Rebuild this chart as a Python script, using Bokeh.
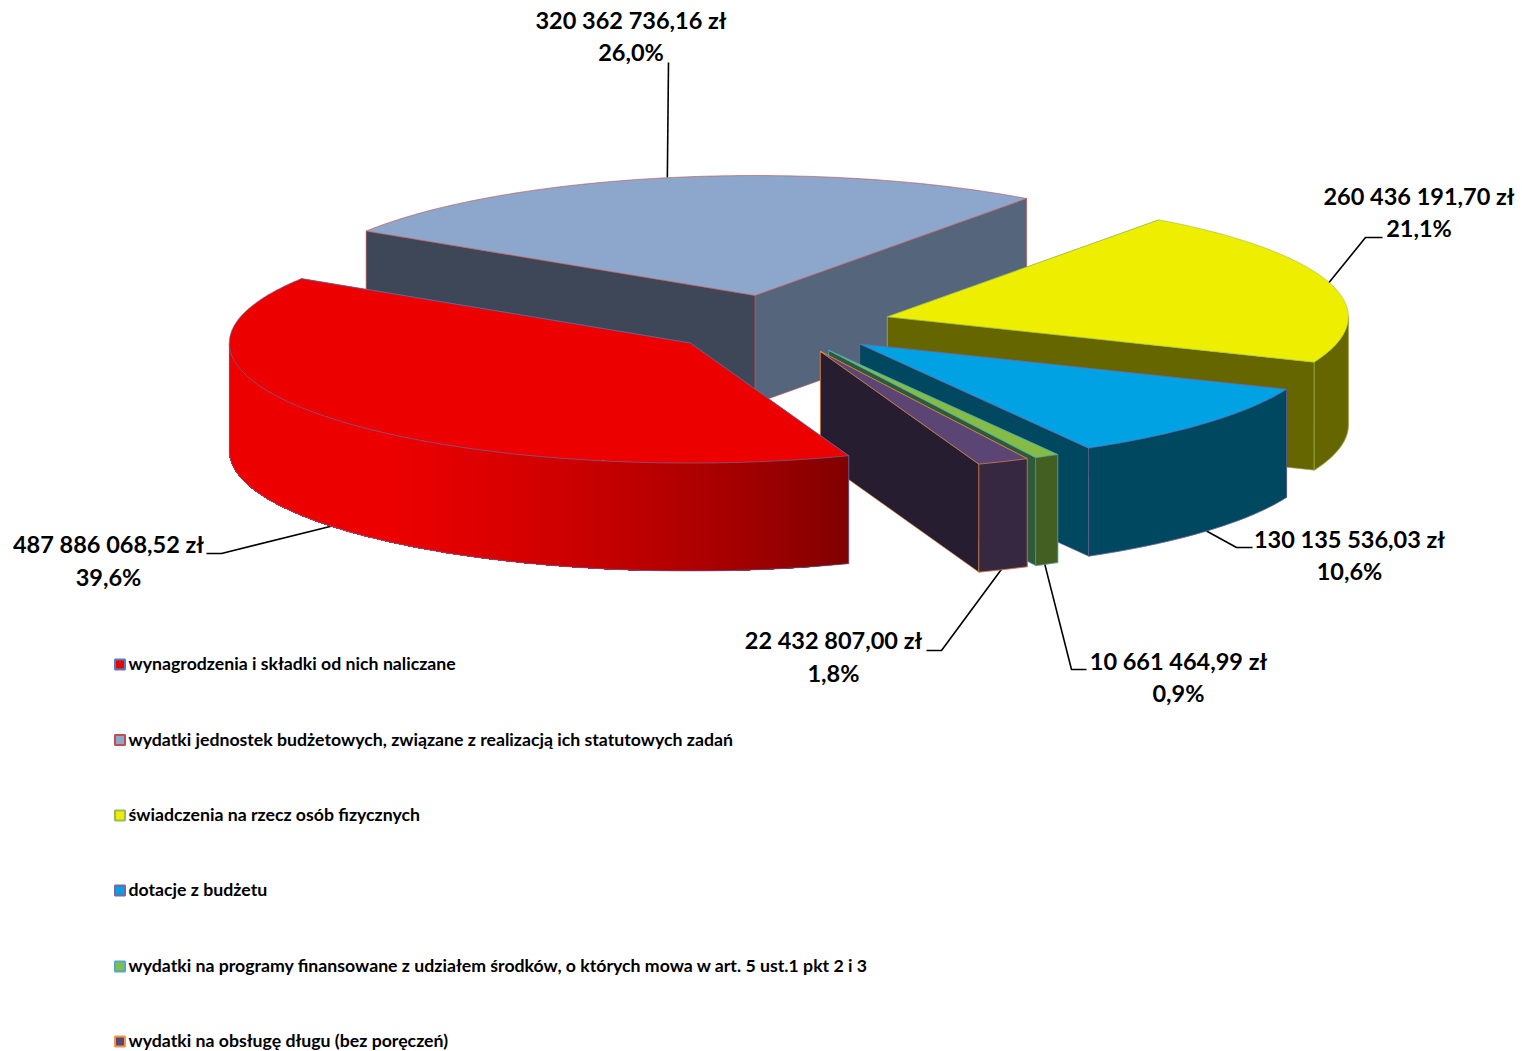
import math
import numpy as np
from bokeh.plotting import figure
from bokeh.embed import file_html
from bokeh.resources import INLINE
from bokeh.core.properties import value

# ---------- data ----------
categories = [
    "wynagrodzenia i składki od nich naliczane",
    "wydatki jednostek budżetowych, związane z realizacją ich statutowych zadań",
    "świadczenia na rzecz osób fizycznych",
    "dotacje z budżetu",
    "wydatki na programy finansowane z udziałem środków, o których mowa w art. 5 ust.1 pkt 2 i 3",
    "wydatki na obsługę długu (bez poręczeń)",
]
amounts = [487886068.52, 320362736.16, 260436191.70, 130135536.03, 10661464.99, 22432807.00]

# ---------- styles ----------
top_colors = ["#ED0000", "#8CA7CB", "#EEEE00", "#00A2E3", "#84BC45", "#5B4574"]
start_side = ["#8F0000", "#3D4757", "#666600", "#004760", "#2F5A3A", "#352840"]
end_side = ["#8F0000", "#55667C", "#666600", "#004760", "#2F5A3A", "#261D30"]
rim_colors = [None, "#55667C", "#666600", "#004760", "#445F22", "#352840"]
outline = ["#4F81BD", "#C0504D", "#9BBB59", "#8064A2", "#4BACC6", "#F79646"]
paint_order = [1, 2, 3, 4, 5, 0]
explode = [0.24, 0.25, 0.25, 0.24, 0.24, 0.24]

# label centres / leader elbows, in page pixels
label_xy = [(108, 543.5), (630.5, 19), (1418.5, 195.5), (1349, 538), (1178, 660), (833, 639.5)]
pct_dy = [33, 32, 32, 32, 32, 33]
leader_elbow = [[(221, 553), (206, 553)], [(668, 62)], [(1365, 237), (1382, 237)],
                [(1236, 547), (1252, 547)], [(1071, 669), (1086, 669)], [(941, 650), (926, 650)]]
leader_dx = [0, -2, -3, 0, -2, -2]
legend_y = [664, 739.5, 815, 890, 966, 1041]
legend_text_dy = -1

CX, CY, RX, RY, DEPTH, START = 776, 324.5, 461, 120, 108, 159.9

W, H = 1522, 1051
p = figure(width=W, height=H, x_range=(0, W), y_range=(H, 0),
           output_backend="svg", toolbar_location=None, min_border=0)
p.axis.visible = False
p.grid.visible = False
p.outline_line_color = None
p.background_fill_color = "white"
p.border_fill_color = "white"


def pt(a, ang):
    r = math.radians(ang)
    return a[0] + RX * math.sin(r), a[1] - RY * math.cos(r)


def red_shade(x):
    return int(round(np.interp(x, [390, 511, 632, 752, 850], [236, 216, 190, 160, 128])))


total = sum(amounts)
angles = []
cur = START
for v in amounts:
    d = 360 * v / total
    a0 = cur % 360
    angles.append((a0, a0 + d))
    cur += d

apexes = []
for i, (a0, a1) in enumerate(angles):
    m = math.radians((a0 + a1) / 2)
    apexes.append((CX + explode[i] * RX * math.sin(m), CY - explode[i] * RY * math.cos(m)))


def fmt_amount(v):
    s = f"{v:,.2f}".replace(",", " ").replace(".", ",")
    return s + " zł"


# ---------- leaders (below slices) ----------
for i, (a0, a1) in enumerate(angles):
    mid = (a0 + a1) / 2
    x, y = pt(apexes[i], mid)
    if 90 < mid % 360 < 270:
        y += DEPTH
    pts = [(x + leader_dx[i], y)] + leader_elbow[i]
    p.line([q[0] for q in pts], [q[1] for q in pts], line_color="black", line_width=1.6)

# ---------- slices ----------
for i in paint_order:
    a0, a1 = angles[i]
    A = apexes[i]
    S, E = pt(A, a0), pt(A, a1)
    # radial faces
    for Q, col in ((S, start_side[i]), (E, end_side[i])):
        xs = [A[0], Q[0], Q[0], A[0]]
        ys = [A[1], Q[1], Q[1] + DEPTH, A[1] + DEPTH]
        p.patch(xs, ys, fill_color=col, line_color=outline[i], line_width=0.75, line_alpha=0.8)
    # outer rim: only the part that faces the viewer
    lo, hi = max(a0, 90), min(a1, 270)
    if hi > lo:
        steps = max(2, int((hi - lo) / 1.0))
        arc = np.linspace(lo, hi, steps + 1)
        rim_top = [pt(A, t) for t in arc]
        if rim_colors[i] is None:
            # shaded from the dark end; every strip reaches to the far end so no seams show
            for j in range(steps):
                seg = rim_top[j:]
                xs = [q[0] for q in seg] + [q[0] for q in seg[::-1]]
                ys = [q[1] for q in seg] + [q[1] + DEPTH for q in seg[::-1]]
                s = red_shade((rim_top[j][0] + rim_top[j + 1][0]) / 2)
                p.patch(xs, ys, fill_color=f"#{s:02X}0000", line_color=None)
        else:
            xs = [q[0] for q in rim_top] + [q[0] for q in rim_top[::-1]]
            ys = [q[1] for q in rim_top] + [q[1] + DEPTH for q in rim_top[::-1]]
            p.patch(xs, ys, fill_color=rim_colors[i], line_color=rim_colors[i], line_width=0.5)
        ox = [q[0] for q in rim_top]
        oy = [q[1] + DEPTH for q in rim_top]
        ox = [rim_top[0][0]] + ox + [rim_top[-1][0]]
        oy = [rim_top[0][1]] + oy + [rim_top[-1][1]]
        p.line(ox, oy, line_color=outline[i], line_width=0.75, line_alpha=0.8)
    # top face
    arc = np.linspace(a0, a1, max(3, int(a1 - a0) * 2 + 1))
    rim = [pt(A, t) for t in arc]
    xs = [A[0]] + [q[0] for q in rim]
    ys = [A[1]] + [q[1] for q in rim]
    p.patch(xs, ys, fill_color=top_colors[i], line_color=outline[i], line_width=0.75, line_alpha=0.8)

# ---------- labels ----------
for i, v in enumerate(amounts):
    lx, ly = label_xy[i]
    pct = f"{100 * v / total:.1f}%".replace(".", ",")
    p.text([lx, lx], [ly, ly + pct_dy[i]], text=[fmt_amount(v), pct], text_font=value("Lato"),
           text_font_style="bold", text_font_size="23.5px", text_align="center",
           text_baseline="middle", text_color="black")

# ---------- legend ----------
p.rect([119.5] * 6, legend_y, width=10, height=10, fill_color=top_colors, line_color=outline, line_width=2)
p.text([128] * 6, [y + legend_text_dy for y in legend_y], text=categories, text_font=value("Lato"),
       text_font_style="bold", text_font_size="17.7px", text_align="left", text_baseline="middle",
       text_color="black")

open("out.html", "w").write(file_html(p, INLINE))
